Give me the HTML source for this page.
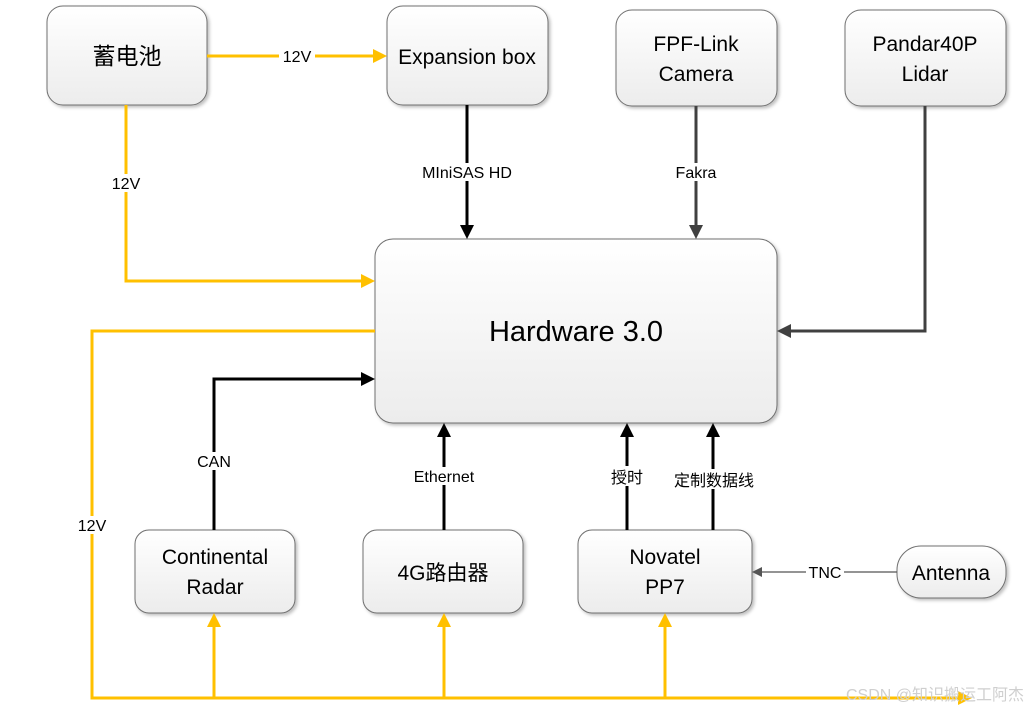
<!DOCTYPE html>
<html><head><meta charset="utf-8"><style>
html,body{margin:0;padding:0;background:#fff}
svg{display:block}
text{font-family:"Liberation Sans","Noto Sans CJK SC",sans-serif;fill:#000}
</style></head><body>
<svg width="1029" height="713" viewBox="0 0 1029 713" xmlns="http://www.w3.org/2000/svg">
<defs>
<linearGradient id="g" x1="0" y1="0" x2="0" y2="1"><stop offset="0" stop-color="#ffffff"/><stop offset="1" stop-color="#ececec"/></linearGradient>
<filter id="s" x="-10%" y="-10%" width="130%" height="130%"><feDropShadow dx="2" dy="2" stdDeviation="1.5" flood-color="#000" flood-opacity="0.25"/></filter>
</defs>
<g fill="url(#g)" stroke="#707070" stroke-width="1" filter="url(#s)">
<rect x="47" y="6" width="160" height="99" rx="16"/>
<rect x="387" y="6" width="161" height="99" rx="16"/>
<rect x="616" y="10" width="161" height="96" rx="16"/>
<rect x="845" y="10" width="161" height="96" rx="16"/>
<rect x="375" y="239" width="402" height="184" rx="18"/>
<rect x="135" y="530" width="160" height="83" rx="14"/>
<rect x="363" y="530" width="160" height="83" rx="14"/>
<rect x="578" y="530" width="174" height="83" rx="14"/>
<rect x="897" y="546" width="109" height="52" rx="24"/>
</g>
<g stroke="#FFC000" stroke-width="3" fill="none">
<path d="M207 56H376"/>
<path d="M126 105V281H364"/>
<path d="M375 331H92V698H960"/>
<path d="M214 698V624M444 698V624M665 698V624"/>
</g>
<g fill="#FFC000">
<path d="M387 56l-14 -7v14z"/>
<path d="M375 281l-14 -7v14z"/>
<path d="M972 698l-14 -7v14z"/>
<path d="M214 613l-7 14h14z"/><path d="M444 613l-7 14h14z"/><path d="M665 613l-7 14h14z"/>
</g>
<g stroke="#000" stroke-width="3" fill="none">
<path d="M467 105V228"/>
<path d="M214 530V379H364"/>
<path d="M444 530V434M627 530V434M713 530V434"/>
</g>
<g stroke="#404040" stroke-width="3" fill="none">
<path d="M696 106V228"/>
<path d="M925 106V331H788"/>
</g>
<g fill="#000">
<path d="M467 239l-7 -14h14z"/>
<path d="M375 379l-14 -7v14z"/>
<path d="M444 423l-7 14h14z"/><path d="M627 423l-7 14h14z"/><path d="M713 423l-7 14h14z"/>
</g>
<g fill="#404040">
<path d="M696 239l-7 -14h14z"/>
<path d="M777 331l14 -7v14z"/>
</g>
<path d="M897 572H760" stroke="#555" stroke-width="1.2"/>
<path d="M752 572l10 -5v10z" fill="#555"/>
<g fill="#fff">
<rect x="279" y="47" width="36" height="18"/>
<rect x="108" y="174" width="36" height="18"/>
<rect x="74" y="516" width="36" height="18"/>
<rect x="416" y="163" width="102" height="18"/>
<rect x="671" y="163" width="50" height="18"/>
<rect x="193" y="452" width="42" height="18"/>
<rect x="405" y="467" width="78" height="18"/>
<rect x="603" y="466" width="48" height="20"/>
<rect x="663" y="469" width="102" height="20"/>
<rect x="806" y="563" width="38" height="18"/>
</g>
<g font-size="16" text-anchor="middle">
<text x="297" y="62">12V</text>
<text x="126" y="189">12V</text>
<text x="92" y="531">12V</text>
<text x="467" y="178">MIniSAS HD</text>
<text x="696" y="178">Fakra</text>
<text x="214" y="467">CAN</text>
<text x="444" y="482">Ethernet</text>
<text x="627" y="483">授时</text>
<text x="714" y="486">定制数据线</text>
<text x="825" y="578">TNC</text>
</g>
<g font-size="21" text-anchor="middle">
<text x="127" y="64" font-size="23">蓄电池</text>
<text x="467" y="64">Expansion box</text>
<text x="696" y="51">FPF-Link</text>
<text x="696" y="81">Camera</text>
<text x="925" y="51">Pandar40P</text>
<text x="925" y="81">Lidar</text>
<text x="576" y="341" font-size="29">Hardware 3.0</text>
<text x="215" y="564">Continental</text>
<text x="215" y="594">Radar</text>
<text x="443" y="580">4G路由器</text>
<text x="665" y="564">Novatel</text>
<text x="665" y="594">PP7</text>
<text x="951" y="580">Antenna</text>
</g>
<text x="1024" y="700" font-size="16" text-anchor="end" style="fill:#cfcfcf">CSDN @知识搬运工阿杰</text>
</svg>
</body></html>
